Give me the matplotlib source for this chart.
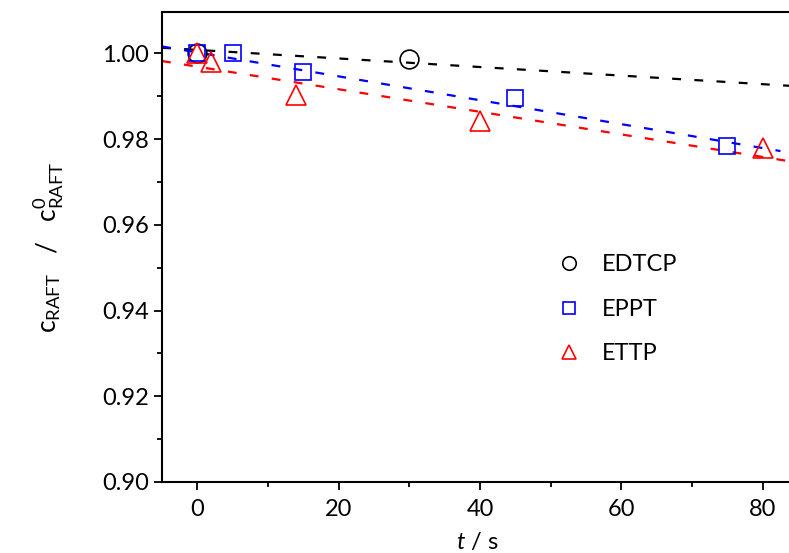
import numpy as np
import matplotlib.pyplot as plt
from matplotlib.ticker import MultipleLocator

plt.rcParams['font.family'] = ['Lato', 'DejaVu Sans']
plt.rcParams['mathtext.fontset'] = 'custom'
plt.rcParams['mathtext.rm'] = 'Lato'
plt.rcParams['mathtext.it'] = 'Lato:italic'

# measured points
t_edtcp = [0, 30]
c_edtcp = [1.000, 0.9987]
t_eppt = [0, 5, 15, 45, 75]
c_eppt = [1.000, 1.000, 0.9956, 0.9896, 0.9783]
t_ettp = [0, 2, 14, 40, 80]
c_ettp = [1.000, 0.9980, 0.9903, 0.9842, 0.9779]

# fit lines (end points)
fit_t_edtcp = [-5, 85]
fit_c_edtcp = [1.0013, 0.9923]
fit_t_eppt = [-5, 82.5]
fit_c_eppt = [1.0016, 0.9772]
fit_t_ettp = [-5, 85]
fit_c_ettp = [0.9982, 0.9745]

fig = plt.figure(figsize=(7.89, 5.53), dpi=100)
ax = fig.add_axes([0.2053, 0.1284, 0.80, 0.8496])

dash = (0, (4, 6))
ax.plot(fit_t_edtcp, fit_c_edtcp, color='black', lw=1.6, ls=dash)
ax.plot(fit_t_eppt, fit_c_eppt, color='blue', lw=1.6, ls=dash)
ax.plot(fit_t_ettp, fit_c_ettp, color='red', lw=1.6, ls=dash)

ax.plot(t_edtcp, c_edtcp, ls='none', marker='o', ms=13.5, mfc='none', mec='black', mew=1.2, label='EDTCP')
ax.plot(t_eppt, c_eppt, ls='none', marker='s', ms=11.5, mfc='none', mec='blue', mew=1.2, label='EPPT')
ax.plot(t_ettp, c_ettp, ls='none', marker='^', ms=14.5, mfc='none', mec='red', mew=1.2, label='ETTP')

ax.set_xlim(-5, 84.3)
ax.set_ylim(0.90, 1.0096)
ax.xaxis.set_major_locator(MultipleLocator(20))
ax.xaxis.set_minor_locator(MultipleLocator(10))
ax.yaxis.set_major_locator(MultipleLocator(0.02))
ax.yaxis.set_minor_locator(MultipleLocator(0.01))
ax.yaxis.set_major_formatter(plt.FormatStrFormatter('%.2f'))

ax.spines['right'].set_visible(False)
for s in ['left', 'bottom', 'top']:
    ax.spines[s].set_linewidth(1.5)
ax.tick_params(which='major', direction='out', length=6, width=1.3, labelsize=17)
ax.tick_params(which='minor', direction='out', length=3.5, width=1.3)
ax.tick_params(axis='x', pad=6)

ax.set_xlabel(r'$t$ / s', fontsize=17, labelpad=8)
ax.set_ylabel(r'$\mathregular{c_{RAFT}}$   /   $\mathregular{c^{0}_{RAFT}}$', fontsize=19, labelpad=26)

leg = ax.legend(loc='upper left', bbox_to_anchor=(0.573, 0.53), frameon=False, fontsize=17,
                handletextpad=0.4, labelspacing=1.0, markerscale=0.72)

fig.savefig('out.png', dpi=100)
